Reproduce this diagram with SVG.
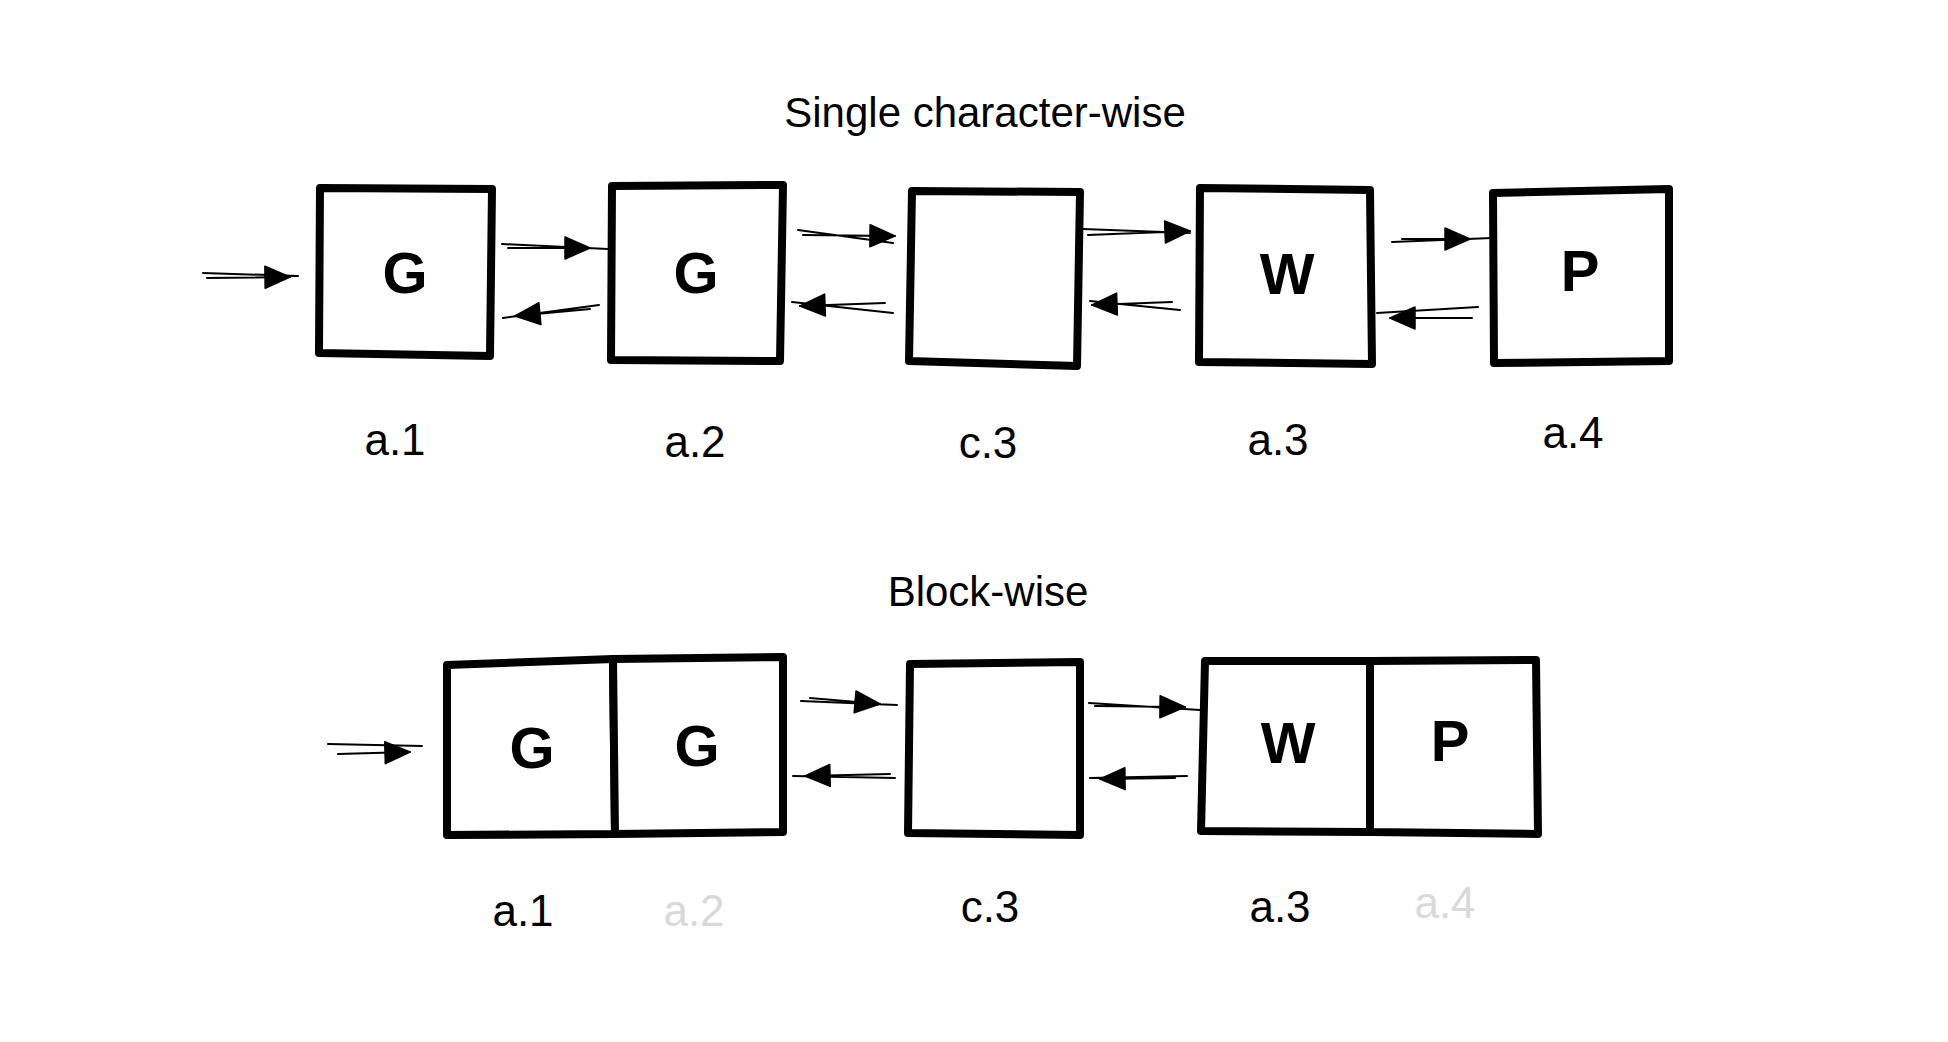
<svg xmlns="http://www.w3.org/2000/svg" width="1948" height="1042" viewBox="0 0 1948 1042">
<style>
.box{fill:#fff;stroke:#000;stroke-width:8;stroke-linejoin:round;stroke-linecap:round}
.glyph{font-family:"Liberation Sans",Arial,sans-serif;font-size:58px;font-weight:bold;text-anchor:middle;fill:#000}
.lbl{font-family:"Liberation Sans",Arial,sans-serif;font-size:44px;text-anchor:middle;fill:#000}
.dim{fill:#d9d9d9}
.title{font-family:"Liberation Sans",Arial,sans-serif;font-size:42px;text-anchor:middle;fill:#000}
.con{fill:none;stroke:#000;stroke-width:2;stroke-linecap:round}
</style>
<defs>
<marker id="ah" markerUnits="userSpaceOnUse" markerWidth="32" markerHeight="28" refX="28" refY="14" orient="auto">
<path d="M3,3 L28,14 L3,25 Z" fill="#000" stroke="#000" stroke-width="1.5" stroke-linejoin="round"/>
</marker>
</defs>
<rect width="1948" height="1042" fill="#fff"/>
<text class="title" x="985" y="127">Single character-wise</text>
<text class="title" x="988" y="606" font-size="40">Block-wise</text>

<g id="connectors">
<path class="con" marker-end="url(#ah)" d="M203,273 L298,276 M207,278 L290,277"/>
<path class="con" marker-end="url(#ah)" d="M502,244 L608,249 M508,248 L590,248"/>
<path class="con" marker-end="url(#ah)" d="M599,305 L503,318 M590,309 L515,316"/>
<path class="con" marker-end="url(#ah)" d="M798,230 L893,243 M803,235 L895,236"/>
<path class="con" marker-end="url(#ah)" d="M893,313 L792,302 M885,303 L800,306"/>
<path class="con" marker-end="url(#ah)" d="M1083,229 L1190,233 M1088,235 L1190,231"/>
<path class="con" marker-end="url(#ah)" d="M1180,310 L1090,301 M1172,302 L1092,305"/>
<path class="con" marker-end="url(#ah)" d="M1392,242 L1492,238 M1402,239 L1470,239"/>
<path class="con" marker-end="url(#ah)" d="M1478,307 L1377,313 M1472,318 L1390,318"/>
<path class="con" marker-end="url(#ah)" d="M328,744 L422,746 M338,754 L410,752"/>
<path class="con" marker-end="url(#ah)" d="M801,701 L897,705 M810,698 L880,704"/>
<path class="con" marker-end="url(#ah)" d="M895,778 L793,776 M890,774 L805,776"/>
<path class="con" marker-end="url(#ah)" d="M1089,703 L1200,710 M1095,706 L1185,707"/>
<path class="con" marker-end="url(#ah)" d="M1187,776 L1090,778 M1175,778 L1100,779"/>
</g>

<g id="top-a1">
<path class="box" d="M320,188 L492,189 L490,356 L319,353 Z"/>
<text class="glyph" x="405" y="293">G</text>
<text class="lbl" x="395" y="455">a.1</text>
</g>
<g id="top-a2">
<path class="box" d="M612,186 L783,185 L780,361 L611,360 Z"/>
<text class="glyph" x="696" y="293">G</text>
<text class="lbl" x="695" y="457">a.2</text>
</g>
<g id="top-c3">
<path class="box" d="M912,191 L1080,192 L1077,366 L909,361 Z"/>
<text class="lbl" x="988" y="458">c.3</text>
</g>
<g id="top-a3">
<path class="box" d="M1200,188 L1370,190 L1372,364 L1199,362 Z"/>
<text class="glyph" x="1287" y="294">W</text>
<text class="lbl" x="1278" y="455">a.3</text>
</g>
<g id="top-a4">
<path class="box" d="M1493,193 L1669,189 L1669,361 L1494,363 Z"/>
<text class="glyph" x="1580" y="291">P</text>
<text class="lbl" x="1573" y="448">a.4</text>
</g>

<g id="bot-a1">
<path class="box" d="M447,665 L613,659 L615,834 L447,835 Z"/>
<text class="glyph" x="532" y="768">G</text>
<text class="lbl" x="523" y="926">a.1</text>
</g>
<g id="bot-a2">
<path class="box" d="M613,659 L783,657 L783,832 L615,834 Z"/>
<text class="glyph" x="697" y="766">G</text>
<text class="lbl dim" x="694" y="926">a.2</text>
</g>
<g id="bot-c3">
<path class="box" d="M910,664 L1080,662 L1080,835 L908,833 Z"/>
<text class="lbl" x="990" y="922">c.3</text>
</g>
<g id="bot-a3">
<path class="box" d="M1205,661 L1370,661 L1370,832 L1201,831 Z"/>
<text class="glyph" x="1288" y="763">W</text>
<text class="lbl" x="1280" y="922">a.3</text>
</g>
<g id="bot-a4">
<path class="box" d="M1370,661 L1536,660 L1538,834 L1370,832 Z"/>
<text class="glyph" x="1450" y="761">P</text>
<text class="lbl dim" x="1445" y="918">a.4</text>
</g>
</svg>
